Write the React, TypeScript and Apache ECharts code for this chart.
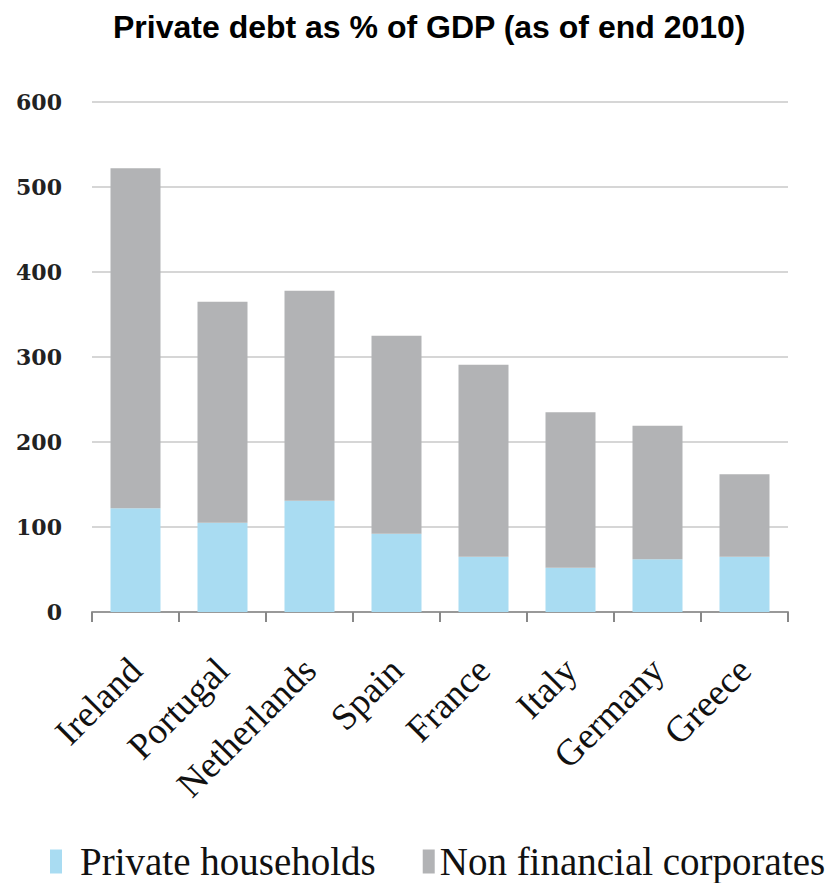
import React, { useEffect, useRef } from "react";
import * as echarts from "echarts";

const categories = ["Ireland", "Portugal", "Netherlands", "Spain", "France", "Italy", "Germany", "Greece"];
const households = [122, 105, 131, 92, 65, 52, 62, 65];
const corporates = [400, 260, 247, 233, 226, 183, 157, 97];
const seriesNames = ["Private households", "Non financial corporates"];
const titleText = "Private debt as % of GDP (as of end 2010)";

export default function App() {
  const ref = useRef<HTMLDivElement>(null);
  useEffect(() => {
    const chart = echarts.init(ref.current!, null, { renderer: "svg" });
    chart.setOption({
      animation: false,
      backgroundColor: "#ffffff",
      title: {
        text: titleText,
        left: 108,
        top: 6,
        textStyle: { fontFamily: "Liberation Sans", fontWeight: "bold", fontSize: 32, color: "#000" },
      },
      legend: {
        bottom: 2,
        left: 50,
        width: 784,
        padding: 0,
        icon: "rect",
        itemWidth: 12,
        itemHeight: 24,
        itemGap: 47,
        textStyle: { fontFamily: "Liberation Serif", fontSize: 39, color: "#111" },
        data: [
          { name: seriesNames[0], textStyle: { padding: [0, 0, 0, 13] } },
          { name: seriesNames[1] },
        ],
      },
      grid: { left: 92, right: 46, top: 102, bottom: 271, containLabel: false },
      xAxis: {
        type: "category",
        data: categories,
        axisLine: { lineStyle: { color: "#999", width: 2 } },
        axisTick: { show: true, length: 10, lineStyle: { color: "#888", width: 2 } },
        axisLabel: {
          rotate: 45,
          interval: 0,
          margin: 52,
          fontFamily: "Liberation Serif",
          fontSize: 37,
          color: "#111",
        },
      },
      yAxis: {
        type: "value",
        min: 0,
        max: 600,
        interval: 100,
        axisLine: { show: false },
        axisTick: { show: false },
        splitLine: { lineStyle: { color: "#d6d6d6", width: 2 } },
        axisLabel: { margin: 30, fontFamily: "DejaVu Serif", fontWeight: "bold", fontSize: 22, color: "#222" },
      },
      series: [
        {
          name: seriesNames[0],
          type: "bar",
          stack: "debt",
          data: households,
          barWidth: 50,
          itemStyle: { color: "#a9dcf2" },
        },
        {
          name: seriesNames[1],
          type: "bar",
          stack: "debt",
          data: corporates,
          barWidth: 50,
          itemStyle: { color: "#b2b3b5" },
        },
      ],
    });
    return () => chart.dispose();
  }, []);
  return <div ref={ref} style={{ width: 834, height: 883, position: "absolute", left: 0, top: 0 }} />;
}
